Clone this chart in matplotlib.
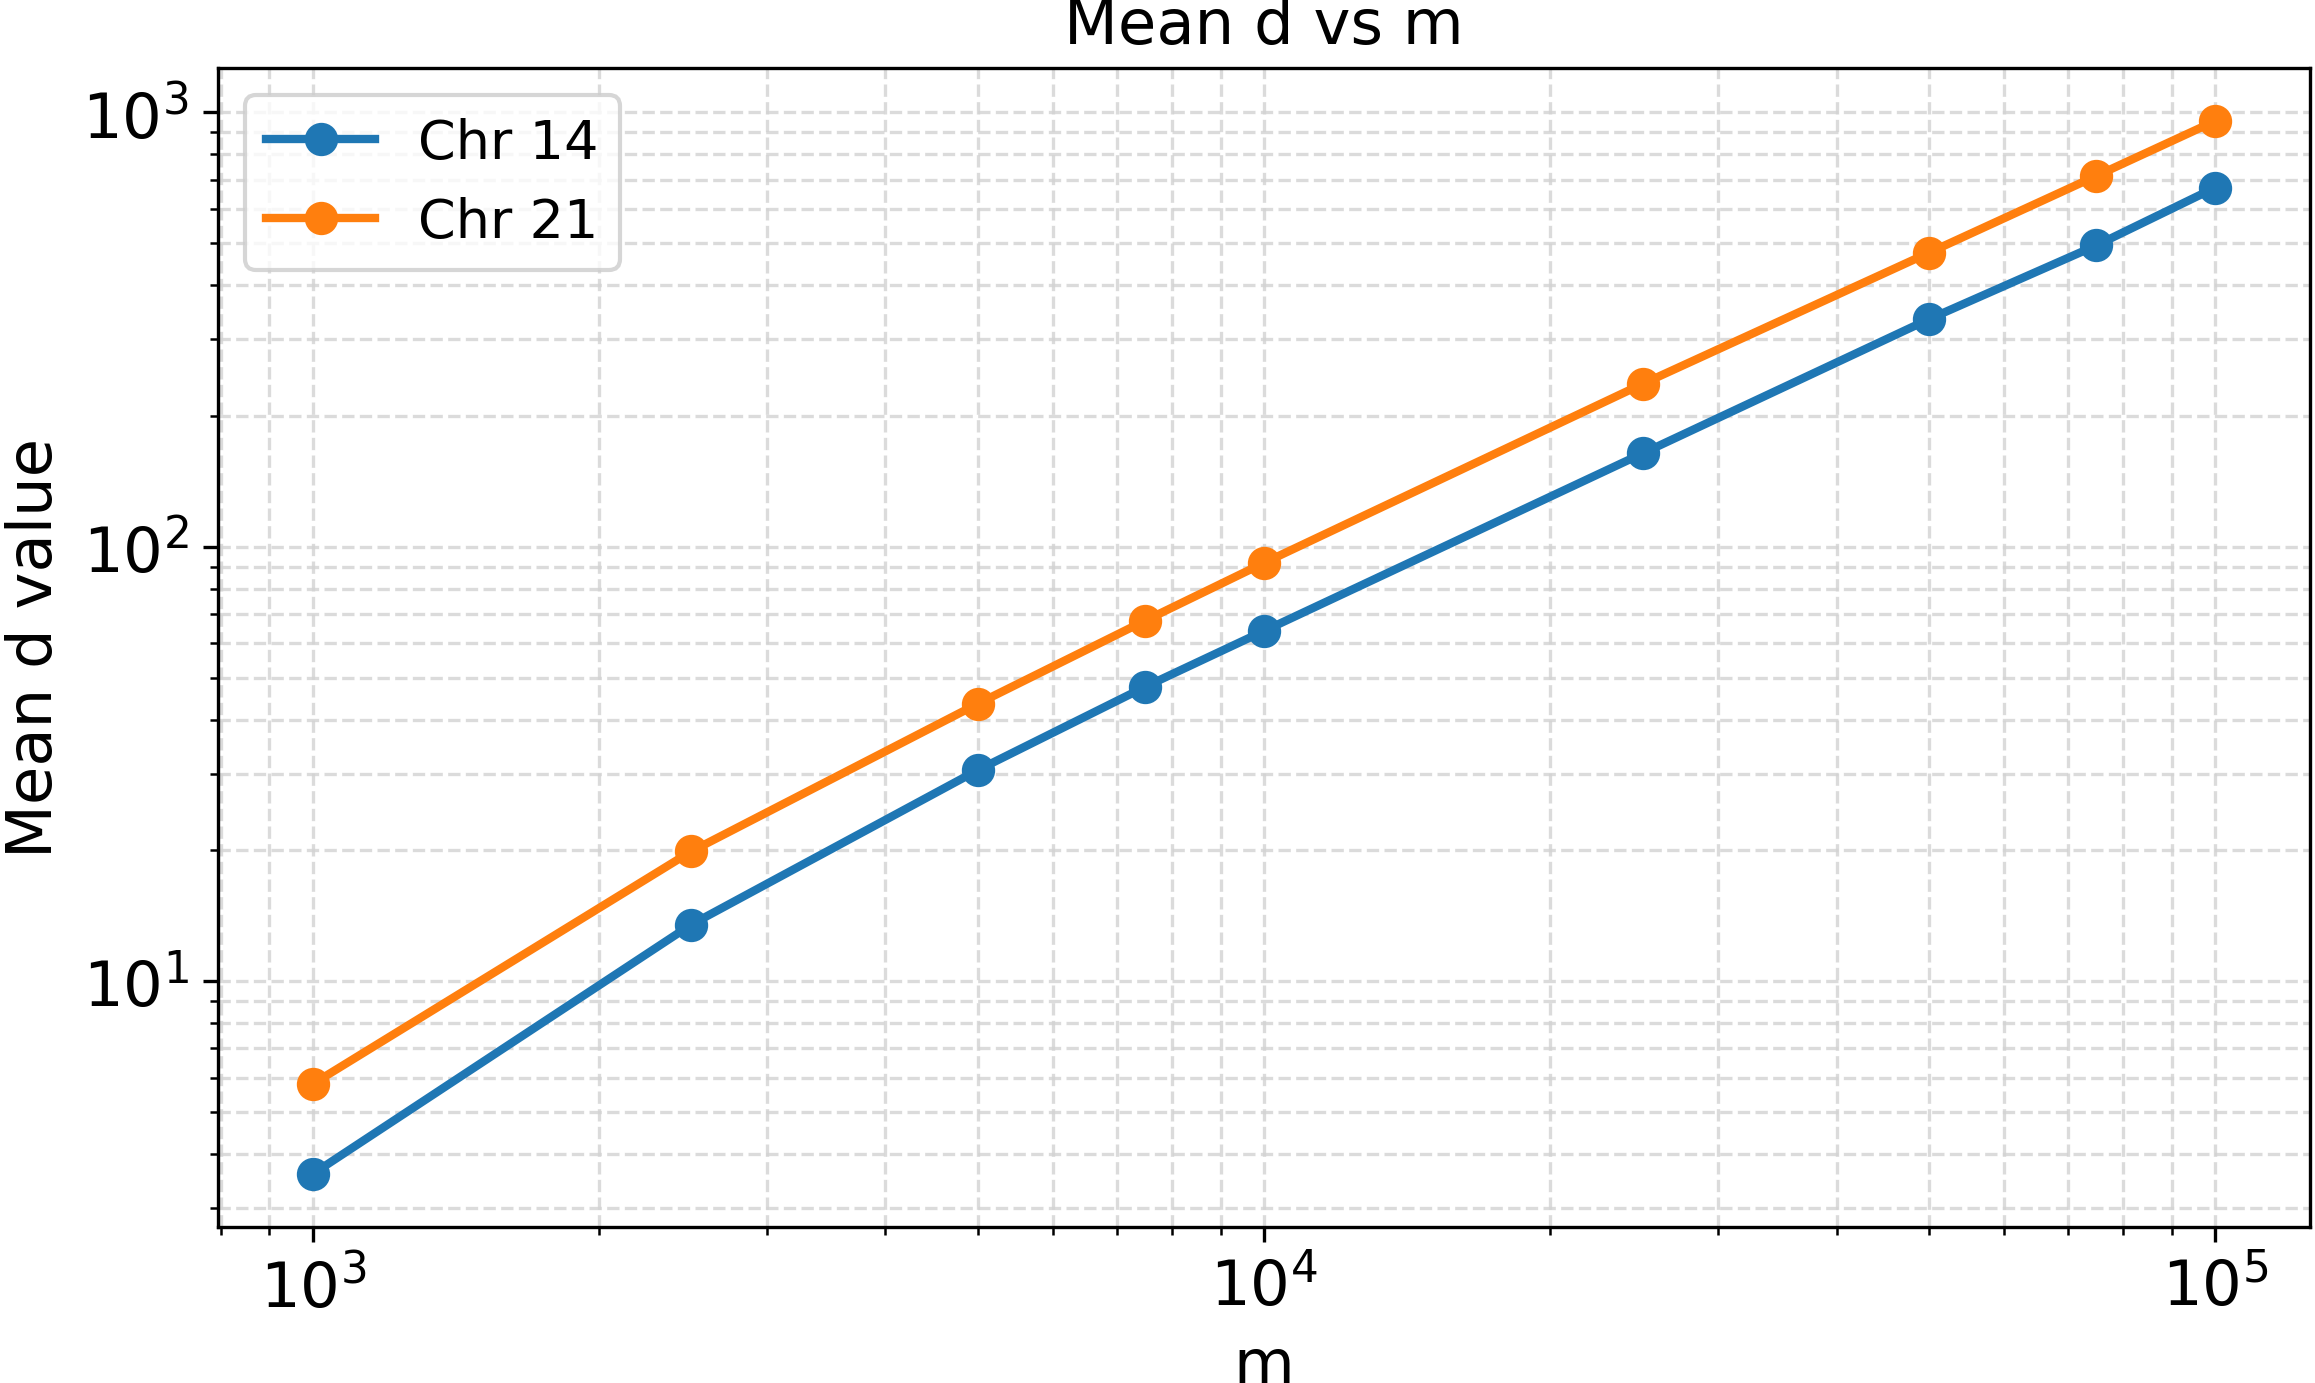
import matplotlib
matplotlib.use("Agg")
import matplotlib.pyplot as plt

m = [1000, 2500, 5000, 7500, 10000, 25000, 50000, 75000, 100000]
chr14 = [3.6, 13.5, 30.6, 47.6, 64, 164, 334, 494, 671]
chr21 = [5.8, 19.9, 43.5, 67.6, 91.8, 237, 475, 714, 955]

fig, ax = plt.subplots(figsize=(7.717, 4.613), dpi=300)
ax.plot(m, chr14, marker='o', lw=2, ms=7, label='Chr 14')
ax.plot(m, chr21, marker='o', lw=2, ms=7, label='Chr 21')
ax.set_xscale('log')
ax.set_yscale('log')
ax.grid(True, which='both', ls='--', lw=0.8, color='lightgray', alpha=0.8)
ax.set_title('Mean d vs m', fontsize=15)
ax.set_xlabel('m', fontsize=15)
ax.set_ylabel('Mean d value', fontsize=15)
ax.tick_params(labelsize=15)
ax.legend(fontsize=13, loc='upper left')
fig.subplots_adjust(left=0.094, right=0.998, top=0.95, bottom=0.113)
fig.savefig('out.png')
